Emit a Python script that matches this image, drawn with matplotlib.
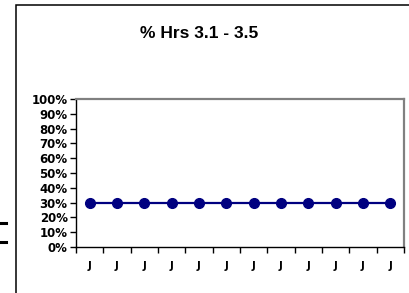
import matplotlib
matplotlib.use("Agg")
import matplotlib.pyplot as plt
from matplotlib.patches import Rectangle
from matplotlib.lines import Line2D

months = ["J", "J", "J", "J", "J", "J", "J", "J", "J", "J", "J", "J"]
pct_hrs = [0.30, 0.30, 0.30, 0.30, 0.30, 0.30, 0.30, 0.30, 0.30, 0.30, 0.30, 0.30]
y_ticks = [0.0, 0.1, 0.2, 0.3, 0.4, 0.5, 0.6, 0.7, 0.8, 0.9, 1.0]
title = "% Hrs 3.1 - 3.5"

W, H = 409, 293
plt.rcParams["font.family"] = ["Liberation Sans", "DejaVu Sans"]
plt.rcParams["font.weight"] = "bold"

fig = plt.figure(figsize=(W / 100, H / 100), dpi=100)
fig.patch.set_facecolor("white")


def px(x, y):
    return x / W, 1 - y / H


# outer chart frame (cut off at the right and bottom edges)
fig.patches.append(Rectangle(px(16, 400), 1.2, (400 - 5) / H, transform=fig.transFigure,
                             fill=False, edgecolor="black", linewidth=1.1, clip_on=False))
# fragments of a neighbouring chart at the left edge
for yy in (223, 242):
    fig.lines.append(Line2D([0, 6 / W], [1 - yy / H] * 2, transform=fig.transFigure,
                            color="black", linewidth=2.2))

left, right, top, bottom = 76, 404, 99, 247
ax = fig.add_axes([left / W, 1 - bottom / H, (right - left) / W, (bottom - top) / H])

xs = list(range(len(months)))
ax.plot(xs, pct_hrs, color="#000080", linewidth=1.6, marker="o", markersize=7,
        markerfacecolor="#000080", markeredgecolor="#000080")

ax.set_xlim(-0.5, len(months) - 0.5)
ax.set_ylim(0, 1)
ax.set_yticks(y_ticks)
ax.set_yticklabels([f"{int(round(v * 100))}%" for v in y_ticks], fontsize=8.5,
                   fontweight="bold", family="DejaVu Sans")
ax.set_xticks(xs)
ax.set_xticklabels(months, fontsize=7.5, fontweight="bold", family="DejaVu Sans")
ax.set_xticks([i - 0.5 for i in range(len(months) + 1)], minor=True)
ax.tick_params(axis="x", which="major", length=0, pad=10)
ax.tick_params(axis="x", which="minor", length=4, width=1, direction="out")
ax.tick_params(axis="y", length=4, width=1, direction="out", pad=2)

for side in ("top", "right"):
    ax.spines[side].set_color("#808080")
    ax.spines[side].set_linewidth(1.6)
for side in ("left", "bottom"):
    ax.spines[side].set_color("black")
    ax.spines[side].set_linewidth(1.0)

fig.text(*px(199, 33), title, ha="center", va="center", fontsize=12.5, fontweight="bold")

fig.savefig("out.png", dpi=100)
